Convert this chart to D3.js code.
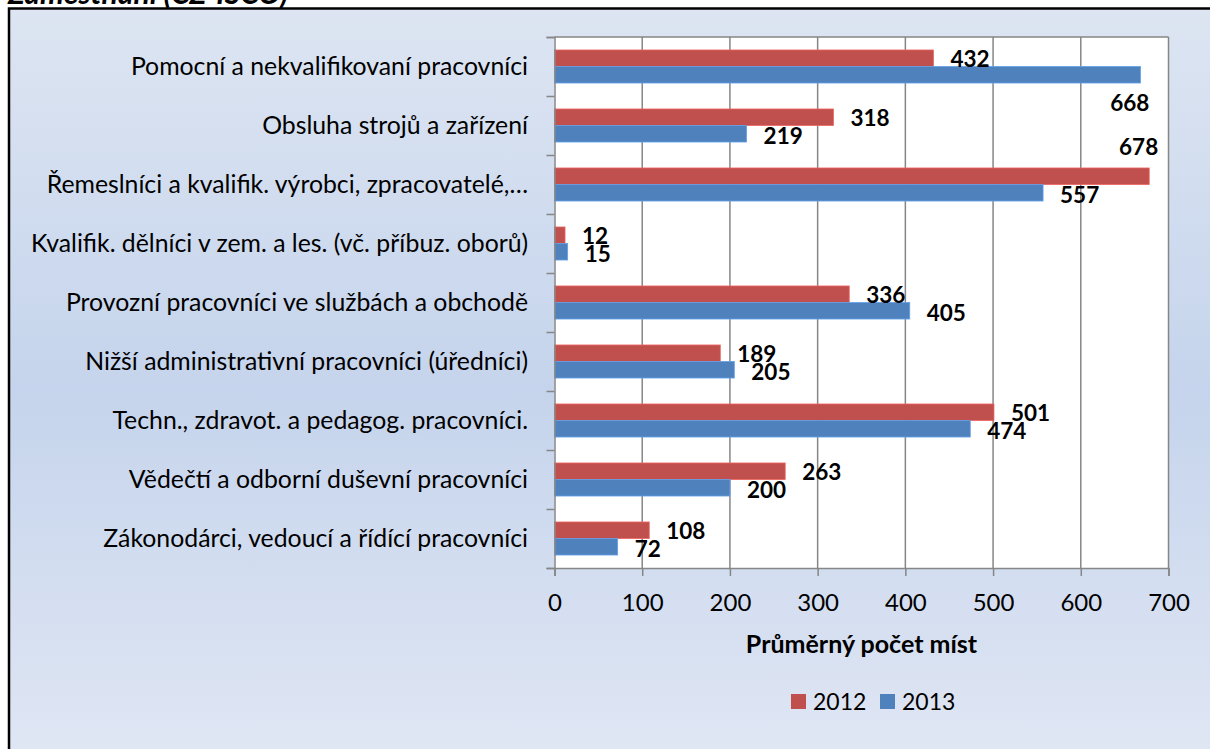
<!DOCTYPE html>
<html><head><meta charset="utf-8">
<script src="https://cdn.jsdelivr.net/npm/d3@7"></script>
<style>body{margin:0;background:#fff;} svg{display:block}</style>
</head><body><svg id="c" width="1210" height="749"></svg>
<script>
const chartTitle = "Zaměstnání (CZ-ISCO)";
const categories = [
  "Pomocní a nekvalifikovaní pracovníci",
  "Obsluha strojů a zařízení",
  "Řemeslníci a kvalifik. výrobci, zpracovatelé,…",
  "Kvalifik. dělníci v zem. a les. (vč. příbuz. oborů)",
  "Provozní pracovníci ve službách a obchodě",
  "Nižší administrativní pracovníci (úředníci)",
  "Techn., zdravot. a pedagog. pracovníci.",
  "Vědečtí a odborní duševní pracovníci",
  "Zákonodárci, vedoucí a řídící pracovníci"
];
const seriesNames = ["2012", "2013"];
const values2012 = [432, 318, 678, 12, 336, 189, 501, 263, 108];
const values2013 = [668, 219, 557, 15, 405, 205, 474, 200, 72];
const xTicks = [0, 100, 200, 300, 400, 500, 600, 700];
const axisTitle = "Průměrný počet míst";
const colors = ["#C0504D", "#4F81BD"];

const FONT = "Lato, 'Open Sans', sans-serif";
const svg = d3.select("#c");
const W = 1210, H = 749;

// background gradient
const defs = svg.append("defs");
const g1 = defs.append("linearGradient").attr("id", "bg").attr("x1", 0).attr("y1", 0).attr("x2", 0).attr("y2", 1);
g1.append("stop").attr("offset", "0%").attr("stop-color", "#DDE5F2");
g1.append("stop").attr("offset", "50%").attr("stop-color", "#C5D4EC");
g1.append("stop").attr("offset", "100%").attr("stop-color", "#E1E7F4");

svg.append("rect").attr("width", W).attr("height", H).attr("fill", "#fff");
svg.append("text").attr("x", 8).attr("y", 4)
  .attr("font-family", FONT).attr("font-weight", "bold").attr("font-style", "italic")
  .attr("font-size", 30).attr("fill", "#000").text(chartTitle);
svg.append("rect").attr("x", 9).attr("y", 8.5).attr("width", 1240).attr("height", 765)
  .attr("fill", "url(#bg)").attr("stroke", "#000").attr("stroke-width", 2.5);

const pLeft = 554.5, pRight = 1168.5, pTop = 37, pBottom = 568;
const x = d3.scaleLinear().domain([0, 700]).range([pLeft, pRight]);
const y0 = d3.scaleBand().domain(categories).range([pTop, pBottom]).paddingInner(0.44).paddingOuter(0.22);
const y1 = d3.scaleBand().domain(seriesNames).range([0, y0.bandwidth()]);

// plot area
svg.append("rect").attr("x", pLeft).attr("y", pTop).attr("width", pRight - pLeft).attr("height", pBottom - pTop)
  .attr("fill", "#fff");
svg.append("g").selectAll("line").data(xTicks.filter(d => d > 0)).join("line")
  .attr("x1", d => x(d)).attr("x2", d => x(d)).attr("y1", pTop).attr("y2", pBottom)
  .attr("stroke", "#868686").attr("stroke-width", 1.5);
svg.append("line").attr("x1", pLeft).attr("x2", pRight).attr("y1", pTop).attr("y2", pTop)
  .attr("stroke", "#868686").attr("stroke-width", 1.5);

// bars
const seriesVals = [values2012, values2013];
const bars = svg.append("g");
seriesNames.forEach((s, si) => {
  bars.selectAll(".b" + si).data(categories).join("rect")
    .attr("class", "b" + si)
    .attr("x", x(0))
    .attr("y", c => y0(c) + y1(s))
    .attr("width", (c, i) => x(seriesVals[si][i]) - x(0))
    .attr("height", y1.bandwidth())
    .attr("fill", colors[si])
    .attr("stroke", d3.color(colors[si]).brighter(0.6))
    .attr("stroke-width", 0.8);
});

// axes
const yTickScale = d3.scaleLinear().domain([0, categories.length]).range([pTop, pBottom]);
const ya = svg.append("g").attr("transform", `translate(${pLeft},0)`)
  .call(d3.axisLeft(yTickScale).tickValues(d3.range(categories.length + 1)).tickSize(8).tickFormat(""));
ya.select(".domain").attr("stroke", "#868686").attr("stroke-width", 1.5);
ya.selectAll(".tick line").attr("stroke", "#868686").attr("stroke-width", 1.5);

const xa = svg.append("g").attr("transform", `translate(0,${pBottom})`)
  .call(d3.axisBottom(x).tickValues(xTicks).tickSize(8).tickPadding(18));
xa.select(".domain").attr("stroke", "#868686").attr("stroke-width", 1.5);
xa.selectAll(".tick line").attr("stroke", "#868686").attr("stroke-width", 1.5);
xa.selectAll(".tick text").attr("font-family", FONT).attr("font-size", 24).attr("fill", "#000");

// category labels
svg.append("g").selectAll("text").data(categories).join("text")
  .attr("x", 528).attr("y", c => y0(c) + y0.bandwidth() / 2).attr("dy", "0.36em")
  .attr("text-anchor", "end").attr("font-family", FONT).attr("font-size", 24.8).attr("fill", "#000")
  .text(c => c);

// data labels
const lab = svg.append("g").attr("font-family", FONT).attr("font-weight", "bold").attr("font-size", 22.5).attr("fill", "#000");
seriesNames.forEach((s, si) => {
  categories.forEach((c, i) => {
    const v = seriesVals[si][i];
    const cy = y0(c) + y1(s) + y1.bandwidth() / 2;
    const t = lab.append("text").text(v).attr("dy", "0.36em");
    t.attr("x", x(v) + 17).attr("y", cy + (si === 0 ? 0.5 : 2.5));
    const w = t.node().getComputedTextLength();
    if (x(v) + 17 + w > pRight) {
      t.attr("text-anchor", "end").attr("x", x(v) + 9)
        .attr("y", si === 0 ? cy - 29 : cy + 28);
    }
  });
});

// axis title
svg.append("text").attr("x", (pLeft + pRight) / 2).attr("y", 653).attr("text-anchor", "middle")
  .attr("font-family", FONT).attr("font-weight", "bold").attr("font-size", 25).attr("fill", "#000")
  .text(axisTitle);

// legend
const leg = svg.append("g");
const legX = [791, 880];
seriesNames.forEach((s, si) => {
  leg.append("rect").attr("x", legX[si]).attr("y", 694).attr("width", 15).attr("height", 15).attr("fill", colors[si]);
  leg.append("text").attr("x", legX[si] + 22).attr("y", 710).attr("font-family", FONT).attr("font-size", 23)
    .attr("fill", "#000").text(s);
});
</script></body></html>
